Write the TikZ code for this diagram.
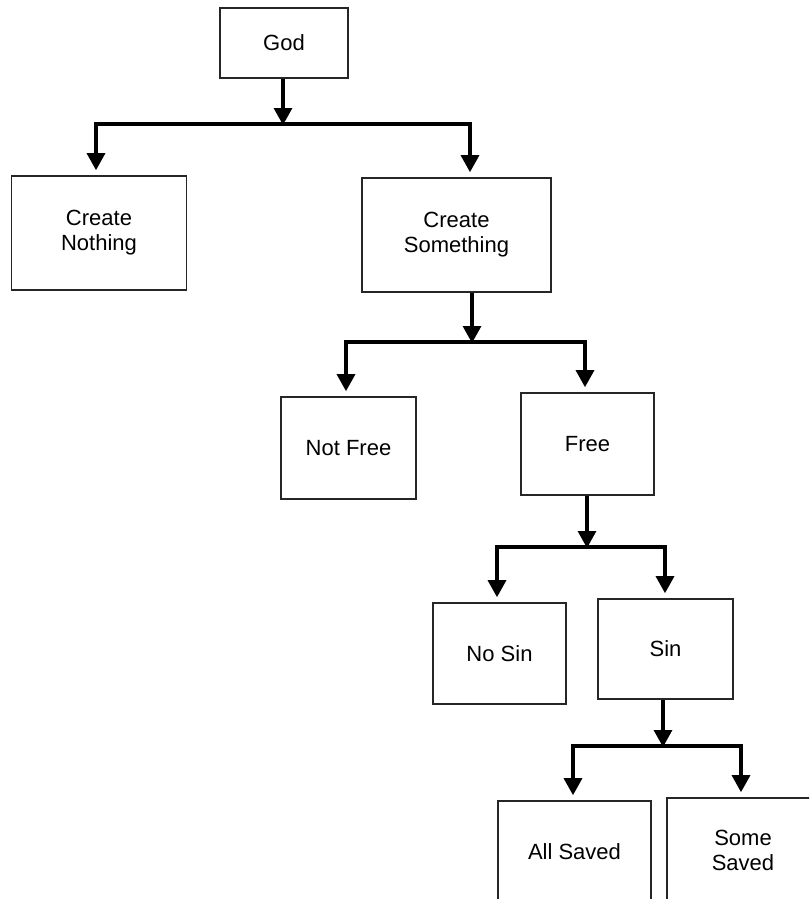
\documentclass[tikz,border=0pt]{standalone}
\usepackage{fontspec}
\setmainfont{Liberation Sans}
\usetikzlibrary{arrows.meta}

\tikzset{
  box/.style={draw=black!85,line width=1.6pt,rectangle,align=center,inner sep=0pt,
    font=\fontsize{22}{25}\selectfont},
  arrow/.style={draw=black,line width=3.2pt,-{Triangle[width=18pt,length=17pt]},shorten >=5pt},
  down/.style={arrow,shorten >=-1pt}
}

\begin{document}
\begin{tikzpicture}[x=1pt,y=-1pt]
\clip (0,0) rectangle (809,899);
\fill[white] (0,0) rectangle (809,899);
% boxes
\node[box,minimum width=128pt,minimum height=70pt] (god) at (284,43) {God};
\node[box,minimum width=175pt,minimum height=114pt] (nothing) at (99,233) {Create\\Nothing};
\node[box,minimum width=189pt,minimum height=114pt] (something) at (456.5,235) {Create\\Something};
\node[box,minimum width=135pt,minimum height=102pt] (notfree) at (348.5,448) {Not Free};
\node[box,minimum width=133pt,minimum height=102pt] (free) at (587.5,444) {Free};
\node[box,minimum width=133pt,minimum height=101pt] (nosin) at (499.5,653.5) {No Sin};
\node[box,minimum width=135pt,minimum height=100pt] (sin) at (665.5,649) {Sin};
\node[box,minimum width=153pt,minimum height=102pt] (allsaved) at (574.5,852) {All Saved};
\node[box,minimum width=152pt,minimum height=104pt] (somesaved) at (743,850) {Some\\Saved};
% branch points
\coordinate (b1m) at (283,124); \coordinate (b1l) at (96,124);  \coordinate (b1r) at (470,124);
\coordinate (b2m) at (472,342); \coordinate (b2l) at (346,342); \coordinate (b2r) at (585,342);
\coordinate (b3m) at (587,547); \coordinate (b3l) at (497,547); \coordinate (b3r) at (665,547);
\coordinate (b4m) at (663,746); \coordinate (b4l) at (573,746); \coordinate (b4r) at (741,746);
% connectors
\draw[down] (god.south -| b1m) -- (b1m);
\draw[arrow] (b1m) -| (nothing.north -| b1l);
\draw[arrow] (b1m) -| (something.north -| b1r);
\draw[down] (something.south -| b2m) -- (b2m);
\draw[arrow] (b2m) -| (notfree.north -| b2l);
\draw[arrow] (b2m) -| (free.north -| b2r);
\draw[down] (free.south -| b3m) -- (b3m);
\draw[arrow] (b3m) -| (nosin.north -| b3l);
\draw[arrow] (b3m) -| (sin.north -| b3r);
\draw[down] (sin.south -| b4m) -- (b4m);
\draw[arrow] (b4m) -| (allsaved.north -| b4l);
\draw[arrow] (b4m) -| (somesaved.north -| b4r);
\end{tikzpicture}
\end{document}
